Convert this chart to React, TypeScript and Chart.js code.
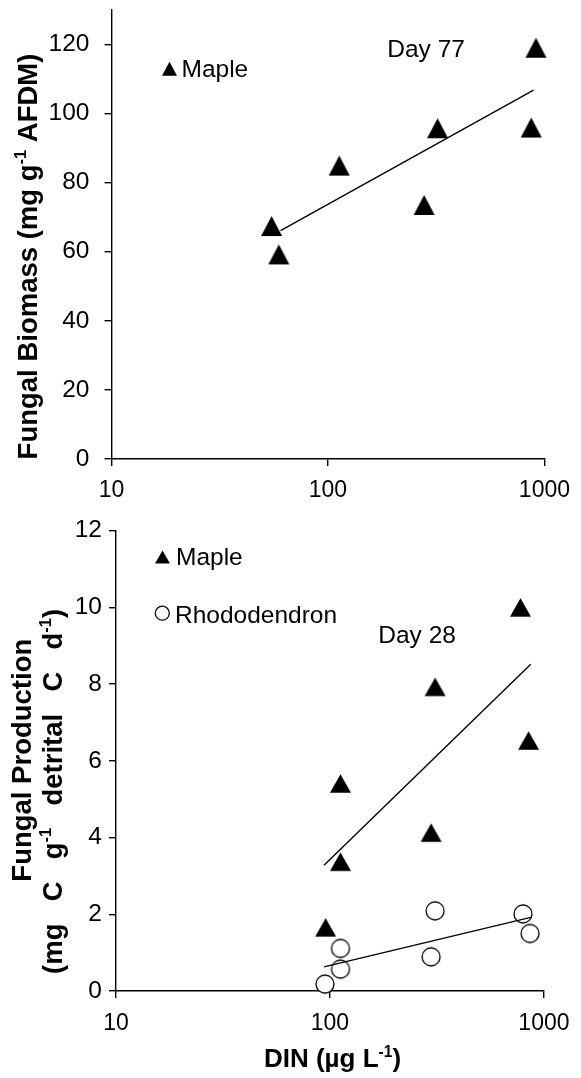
import React, { useEffect, useRef } from "react";
import { Chart, registerables } from "chart.js";

Chart.register(...registerables);

const SANS = "'Liberation Sans', Arial, Helvetica, sans-serif";
const CAP = 0.358; // half of the cap height, in em

// Day 77: fungal biomass on maple leaves against stream DIN
const biomassDIN = [54.9, 59.3, 112.7, 278, 321, 914, 869];
const biomassMaple = [67.4, 59.2, 84.9, 73.5, 95.7, 119.0, 95.9];
const biomassFitDIN = [60.4, 891];
const biomassFitMaple = [66.1, 106.7];

// Day 28: fungal production on maple and rhododendron leaves
const prodMapleDIN = [95.5, 112, 112, 297, 310, 777, 848];
const prodMaple = [1.66, 3.37, 5.41, 4.13, 7.93, 10.0, 6.53];
const prodRhodoDIN = [94.8, 112, 112, 297, 310, 798, 861];
const prodRhodo = [0.18, 1.11, 0.57, 0.89, 2.09, 2.01, 1.5];
const prodFitDIN = [93.8, 868];
const prodFitMaple = [3.28, 8.52];
const prodFitRhodo = [0.63, 1.92];

const dinTicks = [10, 100, 1000];
const biomassTicks = [0, 20, 40, 60, 80, 100, 120];
const prodTicks = [0, 2, 4, 6, 8, 10, 12];

type Seg = [string, boolean]; // [text, superscript]
const biomassTitle: Seg[] = [["Fungal Biomass (mg g", false], ["-1", true], [" AFDM)", false]];
const prodTitle1: Seg[] = [["Fungal Production", false]];
const prodTitle2: Seg[] = [
  ["(mg C g", false],
  ["-1", true],
  [" detrital C d", false],
  ["-1", true],
  [")", false],
];
const dinTitle: Seg[] = [["DIN (µg L", false], ["-1", true], [")", false]];

const fontStr = (size: number, bold: boolean) => `${bold ? "bold " : ""}${size}px ${SANS}`;

type Item = { t: string; sup: boolean; w: number };

function layoutRich(ctx: CanvasRenderingContext2D, segs: Seg[], size: number, bold: boolean, extra: number) {
  const items: Item[] = [];
  for (const [t, sup] of segs) {
    const parts = sup ? [t] : t.split(/( )/).filter((p) => p.length > 0);
    for (const p of parts) items.push({ t: p, sup, w: 0 });
  }
  let total = 0;
  for (const it of items) {
    ctx.font = fontStr(it.sup ? size * 0.6 : size, bold);
    it.w = ctx.measureText(it.t).width + (it.t === " " ? extra : 0);
    total += it.w;
  }
  return { items, total };
}

function drawRich(
  ctx: CanvasRenderingContext2D,
  segs: Seg[],
  o: { x: number; y: number; size: number; bold?: boolean; rotate?: boolean; align?: "left" | "center"; width?: number }
) {
  const bold = !!o.bold;
  ctx.save();
  ctx.translate(o.x, o.y);
  if (o.rotate) ctx.rotate(-Math.PI / 2);
  let lay = layoutRich(ctx, segs, o.size, bold, 0);
  if (o.width) {
    const n = lay.items.filter((i) => i.t === " ").length;
    if (n) lay = layoutRich(ctx, segs, o.size, bold, (o.width - lay.total) / n);
  }
  let cx = o.align === "left" ? 0 : -lay.total / 2;
  const base = CAP * o.size;
  ctx.fillStyle = "#000";
  ctx.textAlign = "left";
  ctx.textBaseline = "alphabetic";
  for (const it of lay.items) {
    ctx.font = fontStr(it.sup ? o.size * 0.6 : o.size, bold);
    ctx.fillText(it.t, cx, it.sup ? base - 0.4 * o.size : base);
    cx += it.w;
  }
  ctx.restore();
}

function triangle(ctx: CanvasRenderingContext2D, cx: number, cy: number, w: number, h: number) {
  ctx.fillStyle = "#000";
  ctx.beginPath();
  ctx.moveTo(cx, cy - h / 2);
  ctx.lineTo(cx + w / 2, cy + h / 2);
  ctx.lineTo(cx - w / 2, cy + h / 2);
  ctx.closePath();
  ctx.fill();
}

function ring(ctx: CanvasRenderingContext2D, cx: number, cy: number, r: number, lw: number) {
  ctx.fillStyle = "#fff";
  ctx.strokeStyle = "#000";
  ctx.lineWidth = lw;
  ctx.beginPath();
  ctx.arc(cx, cy, r, 0, Math.PI * 2);
  ctx.fill();
  ctx.stroke();
}

function triangleSprite(w: number, h: number) {
  const c = document.createElement("canvas");
  c.width = Math.ceil(w) + 2;
  c.height = Math.ceil(h) + 2;
  triangle(c.getContext("2d")!, c.width / 2, c.height / 2, w, h);
  return c;
}

function circleSprite(r: number, lw: number) {
  const c = document.createElement("canvas");
  const s = Math.ceil(2 * r + lw) + 2;
  c.width = s;
  c.height = s;
  ring(c.getContext("2d")!, s / 2, s / 2, r, lw);
  return c;
}

function textAt(ctx: CanvasRenderingContext2D, s: string, x: number, capY: number, size: number) {
  ctx.font = fontStr(size, false);
  ctx.fillStyle = "#000";
  ctx.textAlign = "left";
  ctx.textBaseline = "alphabetic";
  ctx.fillText(s, x, capY + CAP * size);
}

const pts = (xs: number[], ys: number[]) => xs.map((x, i) => ({ x, y: ys[i] }));

type Panel = {
  top0: number;
  height: number;
  left: number;
  right: number;
  top: number;
  bottom: number;
  yMax: number;
  yTicks: number[];
  yPad: number;
  xPad: number;
  datasets: any[];
  decorate: (ctx: CanvasRenderingContext2D, Y: (y: number) => number) => void;
};

function makeChart(canvas: HTMLCanvasElement, p: Panel) {
  const axisLine = { display: true, color: "#000", width: 1.4 };
  const gridTicks = { drawOnChartArea: false, drawTicks: true, tickLength: 7, color: "#000", lineWidth: 1.4 };
  return new Chart(canvas, {
    type: "scatter",
    data: { datasets: p.datasets },
    options: {
      responsive: false,
      animation: false,
      devicePixelRatio: 1,
      events: [],
      layout: { padding: { left: 0, right: 581 - p.right, top: p.top - p.top0, bottom: 0 } },
      plugins: { legend: { display: false }, tooltip: { enabled: false } },
      scales: {
        x: {
          type: "logarithmic",
          position: "bottom",
          min: 10,
          max: 1000,
          afterBuildTicks: (s: any) => {
            s.ticks = dinTicks.map((v) => ({ value: v }));
          },
          afterFit: (s: any) => {
            s.height = p.top0 + p.height - p.bottom;
          },
          ticks: {
            callback: (v: any) => String(v),
            color: "#000",
            font: { family: SANS, size: 23 },
            padding: p.xPad,
            maxRotation: 0,
            autoSkip: false,
          },
          grid: gridTicks,
          border: axisLine,
        },
        y: {
          type: "linear",
          min: 0,
          max: p.yMax,
          afterBuildTicks: (s: any) => {
            s.ticks = p.yTicks.map((v) => ({ value: v }));
          },
          afterFit: (s: any) => {
            s.width = p.left;
          },
          ticks: {
            callback: (v: any) => String(v),
            color: "#000",
            font: { family: SANS, size: 24.5 },
            padding: p.yPad,
          },
          grid: gridTicks,
          border: axisLine,
        },
      },
    } as any,
    plugins: [
      {
        id: "decor",
        afterDraw(chart: any) {
          const ctx = chart.ctx as CanvasRenderingContext2D;
          ctx.save();
          p.decorate(ctx, (y) => y - p.top0);
          ctx.restore();
        },
      },
    ],
  });
}

const fitLine = (data: any) => ({
  data,
  showLine: true,
  pointRadius: 0,
  borderColor: "#000",
  borderWidth: 1.4,
  order: 0,
});

export default function App() {
  const topRef = useRef<HTMLCanvasElement>(null);
  const botRef = useRef<HTMLCanvasElement>(null);

  useEffect(() => {
    const tri20 = triangleSprite(21, 20);
    const tri19 = triangleSprite(21, 18.5);
    const circ = circleSprite(9, 1.3);

    const top = makeChart(topRef.current!, {
      top0: -20,
      height: 540,
      left: 111.5,
      right: 547.5,
      top: 7.6,
      bottom: 459,
      yMax: 130,
      yTicks: biomassTicks,
      yPad: 15,
      xPad: 11,
      datasets: [
        fitLine(pts(biomassFitDIN, biomassFitMaple)),
        { label: "Maple", data: pts(biomassDIN, biomassMaple), pointStyle: tri20, pointRadius: 10, order: 1, clip: false },
      ],
      decorate: (ctx, Y) => {
        triangle(ctx, 169.5, Y(68.8), 15, 14);
        textAt(ctx, "Maple", 181.5, Y(68.3), 24.5);
        textAt(ctx, "Day 77", 387.3, Y(48.7), 24.5);
        drawRich(ctx, biomassTitle, { x: 27, y: Y(256.5), size: 27.5, bold: true, rotate: true });
      },
    });

    const bot = makeChart(botRef.current!, {
      top0: 500,
      height: 578,
      left: 116,
      right: 546,
      top: 530.7,
      bottom: 991,
      yMax: 12,
      yTicks: prodTicks,
      yPad: 7,
      xPad: 11.5,
      datasets: [
        fitLine(pts(prodFitDIN, prodFitMaple)),
        fitLine(pts(prodFitDIN, prodFitRhodo)),
        { label: "Maple", data: pts(prodMapleDIN, prodMaple), pointStyle: tri19, pointRadius: 10, order: 1, clip: false },
        { label: "Rhododendron", data: pts(prodRhodoDIN, prodRhodo), pointStyle: circ, pointRadius: 10, order: 2, clip: false },
      ],
      decorate: (ctx, Y) => {
        triangle(ctx, 162.5, Y(557), 15, 13);
        textAt(ctx, "Maple", 176, Y(555.8), 24.5);
        ring(ctx, 162.3, Y(613.2), 7, 1.3);
        textAt(ctx, "Rhododendron", 175, Y(614.3), 24.5);
        textAt(ctx, "Day 28", 378.3, Y(634.2), 24.5);
        drawRich(ctx, prodTitle1, { x: 21, y: Y(760.2), size: 27.5, bold: true, rotate: true });
        drawRich(ctx, prodTitle2, { x: 52.6, y: Y(791.4), size: 27.5, bold: true, rotate: true, width: 365 });
        drawRich(ctx, dinTitle, { x: 332.5, y: Y(1058), size: 26, bold: true });
      },
    });

    return () => {
      top.destroy();
      bot.destroy();
    };
  }, []);

  return (
    <div style={{ position: "absolute", left: 0, top: 0, width: 581, height: 1078, overflow: "hidden", background: "#fff" }}>
      <canvas ref={topRef} width={581} height={540} style={{ position: "absolute", left: 0, top: -20 }} />
      <canvas ref={botRef} width={581} height={578} style={{ position: "absolute", left: 0, top: 500 }} />
    </div>
  );
}
